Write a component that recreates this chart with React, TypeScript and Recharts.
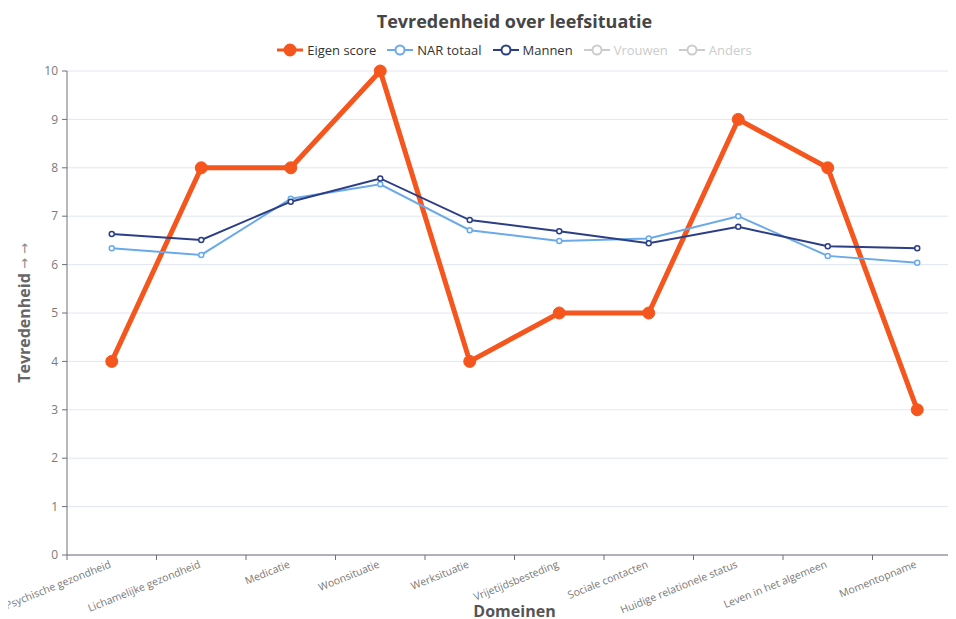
import React from 'react';
import { LineChart, Line, XAxis, YAxis, CartesianGrid, Legend, Label } from 'recharts';

const categories = [
  'Psychische gezondheid',
  'Lichamelijke gezondheid',
  'Medicatie',
  'Woonsituatie',
  'Werksituatie',
  'Vrijetijdsbesteding',
  'Sociale contacten',
  'Huidige relationele status',
  'Leven in het algemeen',
  'Momentopname',
];
const eigenScore = [4, 8, 8, 10, 4, 5, 5, 9, 8, 3];
const narTotaal = [6.34, 6.2, 7.36, 7.66, 6.71, 6.49, 6.54, 7.0, 6.18, 6.04];
const mannen = [6.63, 6.51, 7.3, 7.78, 6.92, 6.69, 6.44, 6.78, 6.38, 6.34];
const yTicks = [0, 1, 2, 3, 4, 5, 6, 7, 8, 9, 10];

const title = 'Tevredenheid over leefsituatie';
const xTitle = 'Domeinen';
const yTitleText = 'Tevredenheid';
const yTitleArrows = ' → →';

const ORANGE = '#f4561e';
const LIGHT_BLUE = '#6aaaea';
const NAVY = '#2c3e86';
const INACTIVE = '#cccccc';
const AXIS = '#6e7079';
const FONT = '"Open Sans", "Noto Sans", sans-serif';

const legendItems = [
  { name: 'Eigen score', color: ORANGE, active: true, filled: true },
  { name: 'NAR totaal', color: LIGHT_BLUE, active: true, filled: false },
  { name: 'Mannen', color: NAVY, active: true, filled: false },
  { name: 'Vrouwen', color: INACTIVE, active: false, filled: false },
  { name: 'Anders', color: INACTIVE, active: false, filled: false },
];

const data = categories.map((c, i) => ({
  name: c,
  eigen: eigenScore[i],
  nar: narTotaal[i],
  mannen: mannen[i],
}));

const CHART_W = 968;
const CHART_H = 619;
const MARGIN = { top: 71, right: 6, bottom: 0, left: 8 };
const Y_W = 59;
const X_H = 64;
const PLOT_W = CHART_W - MARGIN.left - MARGIN.right - Y_W;
const STEP = PLOT_W / categories.length;
const PLOT_LEFT = MARGIN.left + Y_W;

const XTick = (props: any) => {
  const { x, y, payload, index } = props;
  const half = STEP / 2;
  const ty = y + 12;
  return (
    <g>
      <line x1={x - half} y1={y} x2={x - half} y2={y + 5} stroke={AXIS} />
      {index === categories.length - 1 && (
        <line x1={x + half} y1={y} x2={x + half} y2={y + 5} stroke={AXIS} />
      )}
      <text
        x={x}
        y={ty}
        textAnchor="end"
        fill="#7a7a7a"
        fontSize={10.5}
        fontFamily={FONT}
        transform={`rotate(-22, ${x}, ${ty})`}
      >
        {payload.value}
      </text>
    </g>
  );
};

const renderLegend = () => (
  <div
    style={{
      display: 'flex',
      justifyContent: 'center',
      alignItems: 'center',
      gap: 11,
      fontFamily: FONT,
      fontSize: 13,
      height: 18,
    }}
  >
    {legendItems.map((it) => (
      <div key={it.name} style={{ display: 'flex', alignItems: 'center' }}>
        <svg width={26} height={14}>
          <line x1={0} y1={7} x2={26} y2={7} stroke={it.color} strokeWidth={it.filled ? 3 : 2} />
          <circle
            cx={13}
            cy={7}
            r={it.filled ? 5.5 : 4.5}
            fill={it.filled ? it.color : '#fff'}
            stroke={it.color}
            strokeWidth={2}
          />
        </svg>
        <span style={{ marginLeft: 4, color: it.active ? '#333' : INACTIVE }}>{it.name}</span>
      </div>
    ))}
  </div>
);

const YLabel = (props: any) => {
  const vb = props.viewBox || { x: MARGIN.left, y: MARGIN.top, width: Y_W, height: 484 };
  const cx = vb.x + 16;
  const cy = vb.y + vb.height / 2;
  return (
    <text
      x={cx}
      y={cy}
      textAnchor="middle"
      dominantBaseline="central"
      fill="#666"
      fontSize={16}
      fontWeight="bold"
      fontFamily={FONT}
      transform={`rotate(-90, ${cx}, ${cy})`}
    >
      {yTitleText}
      <tspan fontWeight="normal" fontFamily='"DejaVu Sans", sans-serif' fontSize={13} fill="#888">
        {yTitleArrows}
      </tspan>
    </text>
  );
};

export default function App() {
  return (
    <div
      style={{
        position: 'relative',
        width: 956,
        height: CHART_H,
        overflow: 'hidden',
        marginLeft: -8,
        marginTop: -8,
      }}
    >
      <div
        style={{
          position: 'absolute',
          left: PLOT_LEFT,
          width: PLOT_W,
          top: 9,
          textAlign: 'center',
          fontFamily: FONT,
          fontWeight: 'bold',
          fontSize: 18,
          lineHeight: '24px',
          color: '#464646',
          zIndex: 2,
        }}
      >
        {title}
      </div>
      <LineChart width={CHART_W} height={CHART_H} data={data} margin={MARGIN}>
        <CartesianGrid vertical={false} stroke="#e0e6f1" />
        <XAxis
          dataKey="name"
          interval={0}
          height={X_H}
          padding={{ left: STEP / 2, right: STEP / 2 }}
          tickLine={false}
          tickSize={0}
          tickMargin={0}
          stroke={AXIS}
          tick={<XTick />}
        >
          <Label
            value={xTitle}
            position="insideBottom"
            offset={2}
            style={{ fill: '#555', fontSize: 16, fontWeight: 'bold', fontFamily: FONT }}
          />
        </XAxis>
        <YAxis
          width={Y_W}
          domain={[0, 10]}
          ticks={yTicks}
          interval={0}
          tickSize={5}
          tickMargin={4}
          stroke={AXIS}
          tick={{ fill: '#7a7a7a', fontSize: 12, fontFamily: FONT }}
        >
          <Label content={<YLabel />} />
        </YAxis>
        <Legend
          verticalAlign="middle"
          align="center"
          layout="horizontal"
          wrapperStyle={{ top: 41, left: PLOT_LEFT, width: PLOT_W }}
          content={renderLegend}
        />
        <Line
          dataKey="eigen"
          name="Eigen score"
          stroke={ORANGE}
          strokeWidth={5}
          dot={{ r: 6, fill: ORANGE, stroke: ORANGE, strokeWidth: 1 }}
          activeDot={false}
          isAnimationActive={false}
        />
        <Line
          dataKey="nar"
          name="NAR totaal"
          stroke={LIGHT_BLUE}
          strokeWidth={2}
          dot={{ r: 2.5, fill: '#fff', stroke: LIGHT_BLUE, strokeWidth: 1.5 }}
          activeDot={false}
          isAnimationActive={false}
        />
        <Line
          dataKey="mannen"
          name="Mannen"
          stroke={NAVY}
          strokeWidth={2}
          dot={{ r: 2.5, fill: '#fff', stroke: NAVY, strokeWidth: 1.5 }}
          activeDot={false}
          isAnimationActive={false}
        />
      </LineChart>
    </div>
  );
}
